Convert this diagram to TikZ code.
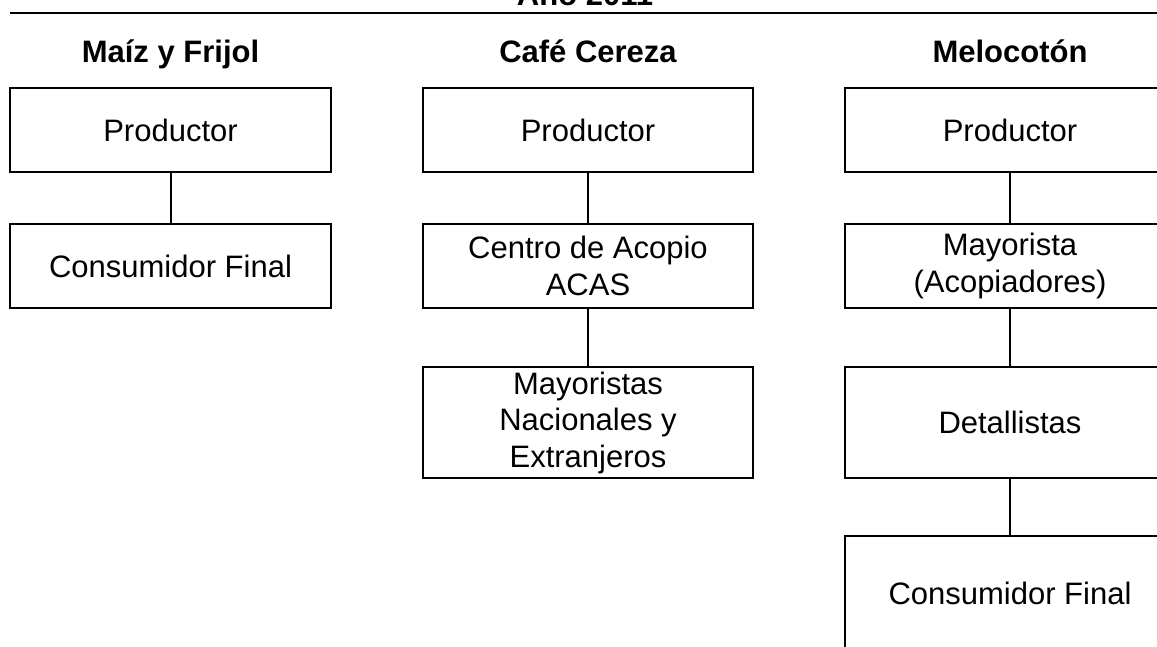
\documentclass[tikz,border=0pt]{standalone}
\usepackage{fontspec}
\setmainfont{Liberation Sans}

\begin{document}
\begin{tikzpicture}[x=1pt,y=-1pt,
  caja/.style={draw,line width=2.8pt,inner sep=0pt,align=center,
    minimum width=330pt,minimum height=84pt,font=\fontsize{31}{36.5}\selectfont},
  enlace/.style={line width=2pt},
  cabeza/.style={anchor=base,font=\fontsize{31}{36.5}\selectfont\bfseries}]
  \useasboundingbox (0,0) rectangle (1157,646);
  \clip (0,0) rectangle (1157,646);
  % titulo cortado arriba
  \node[cabeza] (anio) at (585,5) {Año 2011};
  \draw[line width=2.2pt] (10,13) -- (1170,13);
  % Maiz y Frijol
  \node[cabeza] (maiz) at (170.5,62) {Maíz y Frijol};
  \node[caja,minimum width=321pt] (prod1) at (170.5,130) {Productor};
  \node[caja,minimum width=321pt] (cons1) at (170.5,266) {Consumidor Final};
  \draw[enlace] (prod1) -- (cons1);
  % Cafe Cereza
  \node[cabeza] (cafe) at (588,62) {Café Cereza};
  \node[caja] (prod2) at (588,130) {Productor};
  \node[caja] (centro) at (588,266) {Centro de Acopio\\ACAS};
  \node[caja,minimum height=111pt] (mayor2) at (588,422.5) {Mayoristas\\Nacionales y\\Extranjeros};
  \draw[enlace] (prod2) -- (centro);
  \draw[enlace] (centro) -- (mayor2);
  % Melocoton
  \node[cabeza] (meloc) at (1010,62) {Melocotón};
  \node[caja] (prod3) at (1010,130) {Productor};
  \node[caja] (mayor3) at (1010,266) {Mayorista\\(Acopiadores)};
  \node[caja,minimum height=111pt] (detal) at (1010,422.5) {Detallistas};
  \node[caja,minimum height=114pt] (cons3) at (1010,593) {Consumidor Final};
  \draw[enlace] (prod3) -- (mayor3);
  \draw[enlace] (mayor3) -- (detal);
  \draw[enlace] (detal) -- (cons3);
\end{tikzpicture}
\end{document}
